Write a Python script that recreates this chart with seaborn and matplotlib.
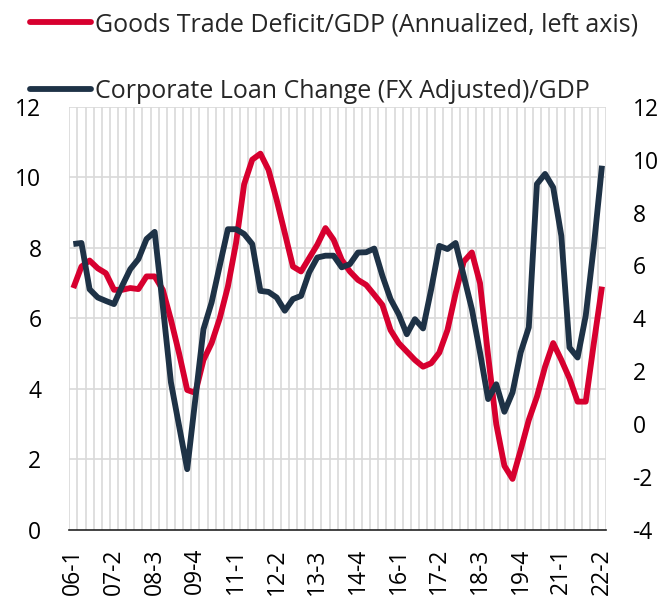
import pandas as pd
import matplotlib.pyplot as plt
import seaborn as sns
from matplotlib.lines import Line2D

# Quarterly data, 2006Q1 - 2022Q2
quarters = pd.period_range("2006Q1", "2022Q2", freq="Q").strftime("%y-%q").tolist()

trade_deficit = [
    6.86, 7.47, 7.64, 7.42, 7.28, 6.81, 6.81, 6.86, 6.83, 7.19,
    7.19, 6.81, 5.96, 5.01, 3.97, 3.89, 4.82, 5.30, 6.00, 6.90,
    8.13, 9.80, 10.50, 10.67, 10.21, 9.36, 8.42, 7.47, 7.33, 7.71,
    8.09, 8.56, 8.23, 7.66, 7.33, 7.09, 6.95, 6.67, 6.38, 5.67,
    5.30, 5.06, 4.82, 4.63, 4.73, 5.03, 5.67, 6.71, 7.61, 7.87,
    7.00, 4.94, 3.00, 1.82, 1.45, 2.27, 3.12, 3.78, 4.63, 5.30,
    4.82, 4.30, 3.64, 3.64, 5.30, 6.90,
]

loan_change = [
    6.81, 6.85, 5.10, 4.79, 4.66, 4.54, 5.23, 5.86, 6.24, 7.00,
    7.27, 4.47, 1.58, -0.06, -1.70, 0.95, 3.59, 4.60, 5.99, 7.37,
    7.37, 7.19, 6.81, 5.04, 5.00, 4.79, 4.29, 4.73, 4.85, 5.74,
    6.30, 6.37, 6.37, 5.93, 6.05, 6.49, 6.50, 6.64, 5.61, 4.73,
    4.16, 3.40, 3.97, 3.62, 5.10, 6.74, 6.62, 6.85, 5.61, 4.35,
    2.71, 0.95, 1.51, 0.47, 1.20, 2.71, 3.66, 9.08, 9.46, 8.95,
    7.12, 2.90, 2.52, 4.10, 6.74, 9.77,
]

tick_labels = ["06-1", "07-2", "08-3", "09-4", "11-1", "12-2", "13-3",
               "14-4", "16-1", "17-2", "18-3", "19-4", "21-1", "22-2"]

label_red = "Goods Trade Deficit/GDP (Annualized, left axis)"
label_navy = "Corporate Loan Change (FX Adjusted)/GDP"

df = pd.DataFrame({"quarter": quarters, "deficit": trade_deficit, "loan": loan_change})
df["pos"] = range(len(df))

RED = "#D7002F"
NAVY = "#1E3246"
GRID = "#D9D9D9"

sns.set_style("white")
plt.rcParams["font.family"] = ["Open Sans", "DejaVu Sans"]
plt.rcParams["axes.unicode_minus"] = False

fig = plt.figure(figsize=(6.66, 6.03), dpi=100)
ax = fig.add_axes([0.104, 0.121, 0.806, 0.702])
ax2 = ax.twinx()

sns.lineplot(data=df, x="pos", y="deficit", ax=ax, color=RED, lw=4.2,
             solid_joinstyle="round", solid_capstyle="butt")
sns.lineplot(data=df, x="pos", y="loan", ax=ax2, color=NAVY, lw=4.2,
             solid_joinstyle="round", solid_capstyle="butt")

n = len(df)
ax.set_xlim(-0.5, n - 0.5)
ax.set_ylim(0, 12)
ax2.set_ylim(-4, 12)
ax.set_yticks(range(0, 13, 2))
ax2.set_yticks(range(-4, 13, 2))

# grid: vertical lines between quarters, horizontal at left ticks
for b in range(n + 1):
    ax.axvline(b - 0.5, color=GRID, lw=1.2, zorder=0)
for yv in range(2, 13, 2):
    ax.axhline(yv, color=GRID, lw=1.2, zorder=0)

tick_pos = [quarters.index(t) for t in tick_labels]
ax.set_xticks(tick_pos)
ax.set_xticklabels(tick_labels, rotation=90)

ax.set_xlabel("")
ax.set_ylabel("")
ax2.set_ylabel("")
ax.tick_params(axis="x", length=0, labelsize=16.5, colors="black", pad=13)
ax.tick_params(axis="y", length=0, labelsize=16.5, colors="black", pad=20)
ax2.tick_params(axis="y", length=0, labelsize=16.5, colors="black", pad=19)

for a in (ax, ax2):
    for s in a.spines.values():
        s.set_visible(False)
ax.spines["bottom"].set_visible(True)
ax.spines["bottom"].set_color("#222222")
ax.spines["bottom"].set_linewidth(1.2)

handles = [Line2D([], [], color=RED, lw=4.2, solid_capstyle="round"),
           Line2D([], [], color=NAVY, lw=4.2, solid_capstyle="round")]
fig.legend(handles, [label_red, label_navy], loc="upper left",
           bbox_to_anchor=(0.045, 0.98), frameon=False, fontsize=18,
           handlelength=2.45, handletextpad=0.15, labelspacing=1.68,
           borderaxespad=0, borderpad=0)

plt.savefig("out.png", dpi=100)
